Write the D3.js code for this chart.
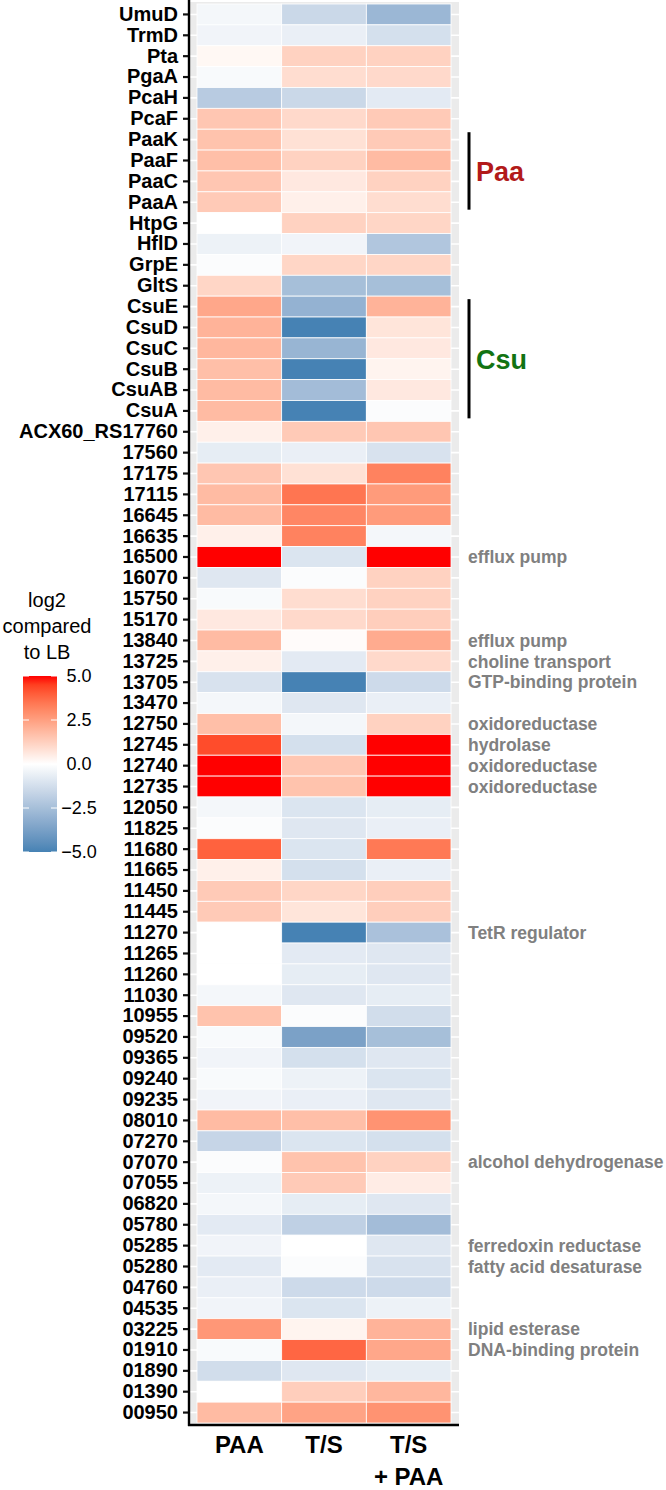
<!DOCTYPE html>
<html>
<head>
<meta charset="utf-8">
<script src="https://cdn.jsdelivr.net/npm/d3@7"></script>
<style>
  body { margin: 0; background: #fff; }
  svg { display: block; font-family: "Liberation Sans", Arial, sans-serif; }
</style>
</head>
<body>
<div id="chart"></div>
<script>
// genes, top to bottom
var genes = ['UmuD', 'TrmD', 'Pta', 'PgaA', 'PcaH', 'PcaF', 'PaaK', 'PaaF', 'PaaC', 'PaaA',
    'HtpG', 'HflD', 'GrpE', 'GltS', 'CsuE', 'CsuD', 'CsuC', 'CsuB', 'CsuAB', 'CsuA',
    'ACX60_RS17760', '17560', '17175', '17115', '16645', '16635', '16500', '16070', '15750', '15170',
    '13840', '13725', '13705', '13470', '12750', '12745', '12740', '12735', '12050', '11825',
    '11680', '11665', '11450', '11445', '11270', '11265', '11260', '11030', '10955', '09520',
    '09365', '09240', '09235', '08010', '07270', '07070', '07055', '06820', '05780', '05285',
    '05280', '04760', '04535', '03225', '01910', '01890', '01390', '00950'];

var conditions = ['PAA', 'T/S', 'T/S + PAA'];

// log2 fold change vs LB, same order as genes
var valPAA = [-0.3, -0.4, 0.2, -0.2, -2.0, 1.5, 1.6, 1.7, 1.5, 1.4,
    0.0, -0.5, -0.1, 1.1, 2.3, 2.0, 1.9, 1.7, 1.8, 1.8,
    0.4, -0.7, 1.5, 1.8, 1.8, 0.4, 5.0, -0.9, -0.2, 0.6,
    1.8, 0.4, -1.1, -0.3, 1.7, 4.3, 5.0, 5.0, -0.3, -0.1,
    3.9, 0.4, 1.4, 1.4, 0.0, 0.0, 0.0, -0.3, 1.6, -0.2,
    -0.4, -0.2, -0.4, 1.8, -1.6, -0.1, -0.5, -0.3, -0.8, -0.4,
    -0.8, -0.6, -0.4, 2.7, -0.2, -1.3, 0.0, 1.8];
var valTS = [-1.5, -0.6, 1.2, 0.9, -1.5, 1.0, 0.8, 1.2, 0.6, 0.4,
    1.2, -0.4, 1.1, -2.5, -3.0, -5.0, -2.9, -5.0, -2.6, -5.0,
    1.4, -0.6, 0.8, 3.5, 3.1, 3.2, -1.0, -0.1, 0.9, 1.0,
    0.1, -0.8, -5.0, -0.9, -0.3, -1.2, 1.5, 1.6, -1.0, -0.9,
    -1.0, -1.2, 1.1, 0.7, -5.0, -0.8, -0.7, -0.9, -0.1, -3.7,
    -1.2, -0.5, -0.6, 1.7, -1.0, 1.6, 1.4, -0.7, -1.8, 0.0,
    -0.1, -1.4, -1.0, 0.3, 3.8, -0.9, 1.3, 2.4];
var valTSPAA = [-2.8, -1.2, 1.2, 1.0, -0.8, 1.4, 1.4, 1.8, 1.2, 0.9,
    1.1, -2.2, 1.1, -2.5, 2.0, 0.7, 0.6, 0.3, 0.6, -0.1,
    1.5, -1.1, 3.2, 2.6, 2.6, -0.3, 5.0, 1.2, 1.2, 1.3,
    2.2, 1.0, -1.4, -0.6, 1.2, 5.0, 5.0, 5.0, -0.7, -0.6,
    3.4, -0.6, 1.3, 1.3, -2.4, -0.9, -0.9, -0.7, -1.3, -2.5,
    -0.9, -1.0, -0.9, 2.8, -1.2, 1.2, 0.5, -0.9, -2.6, -0.9,
    -1.1, -1.4, -0.5, 2.0, 2.3, -0.7, 1.9, 2.8];

// gene function notes shown right of the heatmap
var noteGenes = ['16500', '13840', '13725', '13705', '12750', '12745', '12740', '12735',
    '11270', '07070', '05285', '05280', '03225', '01910'];
var noteTexts = ['efflux pump', 'efflux pump', 'choline transport', 'GTP-binding protein',
    'oxidoreductase', 'hydrolase', 'oxidoreductase', 'oxidoreductase', 'TetR regulator',
    'alcohol dehydrogenase', 'ferredoxin reductase', 'fatty acid desaturase',
    'lipid esterase', 'DNA-binding protein'];

// operon brackets
var groupNames = ['Paa', 'Csu'];
var groupFirst = ['PaaK', 'CsuE'];
var groupLast = ['PaaA', 'CsuA'];
var groupColors = ['#b21a1a', '#127312'];

var legendTicks = [5, 2.5, 0, -2.5, -5];

var width = 666, height = 1490;
var svg = d3.select('#chart').append('svg')
    .attr('width', width)
    .attr('height', height);

// ---------- escalas ----------
var panelLeft = 189, panelRight = 459, panelTop = 2, panelBottom = 1425;
var x = d3.scaleBand().domain(conditions).range([197, 451]);
var y = d3.scaleBand().domain(genes).range([4, 1423]);
var color = d3.scaleLinear()
    .domain([-5, 0, 5])
    .range(['steelblue', 'white', 'red'])
    .interpolate(d3.interpolateLab)
    .clamp(true);

var cells = [];
genes.forEach(function (g, i) {
    cells.push({ gene: g, cond: conditions[0], v: valPAA[i] });
    cells.push({ gene: g, cond: conditions[1], v: valTS[i] });
    cells.push({ gene: g, cond: conditions[2], v: valTSPAA[i] });
});

// fondo gris del panel con lineas de la grilla
svg.append('rect')
    .attr('x', panelLeft).attr('y', panelTop)
    .attr('width', panelRight - panelLeft).attr('height', panelBottom - panelTop)
    .attr('fill', '#ebebeb');
svg.append('g').selectAll('line').data(genes).enter().append('line')
    .attr('x1', panelLeft).attr('x2', panelRight)
    .attr('y1', function (d) { return y(d) + y.bandwidth() / 2; })
    .attr('y2', function (d) { return y(d) + y.bandwidth() / 2; })
    .attr('stroke', '#fff').attr('stroke-width', 1.6);

// celdas
svg.append('g').selectAll('rect').data(cells).enter().append('rect')
    .attr('x', function (d) { return x(d.cond); })
    .attr('y', function (d) { return y(d.gene); })
    .attr('width', x.bandwidth())
    .attr('height', y.bandwidth())
    .attr('fill', function (d) { return color(d.v); })
    .attr('stroke', '#fff')
    .attr('stroke-width', 0.8);

// eje Y
var yAxis = svg.append('g')
    .attr('transform', 'translate(' + panelLeft + ',0)')
    .call(d3.axisLeft(y).tickSize(6).tickPadding(5));
yAxis.select('.domain').remove();
yAxis.selectAll('.tick line').attr('stroke', '#111').attr('stroke-width', 2.2);
yAxis.selectAll('.tick text')
    .attr('font-size', 20)
    .attr('font-weight', 'bold')
    .attr('fill', '#000')
    .attr('font-family', '"Liberation Sans", Arial, sans-serif');

svg.append('line')
    .attr('x1', panelLeft).attr('x2', panelLeft)
    .attr('y1', 0).attr('y2', panelBottom + 1)
    .attr('stroke', '#000').attr('stroke-width', 2.4);
svg.append('line')
    .attr('x1', panelLeft - 1).attr('x2', panelRight)
    .attr('y1', panelBottom).attr('y2', panelBottom)
    .attr('stroke', '#000').attr('stroke-width', 2.4);

// etiquetas eje X
var xLabels = svg.append('g');
xLabels.selectAll('text').data(conditions).enter().append('text')
    .attr('x', function (d) { return x(d) + x.bandwidth() / 2; })
    .attr('y', 1453)
    .attr('text-anchor', 'middle')
    .attr('font-size', 24)
    .attr('font-weight', 'bold')
    .attr('fill', '#000')
    .each(function (d) {
        var parts = d === 'T/S + PAA' ? ['T/S', '+ PAA'] : [d];
        var t = d3.select(this);
        parts.forEach(function (p, k) {
            t.append('tspan')
                .attr('x', x(d) + x.bandwidth() / 2)
                .attr('dy', k === 0 ? 0 : 32)
                .text(p);
        });
    });

// notas de funcion
svg.append('g').selectAll('text').data(noteGenes).enter().append('text')
    .attr('x', 468)
    .attr('y', function (d) { return y(d) + y.bandwidth() / 2; })
    .attr('dy', '0.36em')
    .attr('font-size', 17.5)
    .attr('font-weight', 'bold')
    .attr('fill', '#808080')
    .text(function (d, i) { return noteTexts[i]; });

// corchetes de operones
groupNames.forEach(function (name, i) {
    var y0 = y(groupFirst[i]) + 3;
    var y1 = y(groupLast[i]) + y.bandwidth() - 3;
    svg.append('line')
        .attr('x1', 469).attr('x2', 469)
        .attr('y1', y0).attr('y2', y1)
        .attr('stroke', '#000').attr('stroke-width', 3);
    svg.append('text')
        .attr('x', 476)
        .attr('y', (y0 + y1) / 2 + 10)
        .attr('font-size', 27)
        .attr('font-weight', 'bold')
        .attr('fill', groupColors[i])
        .text(name);
});

// ---------- leyenda ----------
var leg = svg.append('g');
['log2', 'compared', 'to LB'].forEach(function (t, k) {
    leg.append('text')
        .attr('x', 47).attr('y', 607 + k * 26)
        .attr('text-anchor', 'middle')
        .attr('font-size', 20)
        .attr('fill', '#000')
        .text(t);
});
var barX = 23, barW = 34;
var ly = d3.scaleLinear().domain([5, -5]).range([676, 852]);
var grad = svg.append('defs').append('linearGradient')
    .attr('id', 'lg').attr('x1', 0).attr('x2', 0).attr('y1', 0).attr('y2', 1);
d3.range(0, 21).forEach(function (k) {
    var v = 5 - k * 0.5;
    grad.append('stop').attr('offset', (k / 20)).attr('stop-color', color(v));
});
leg.append('rect')
    .attr('x', barX).attr('y', ly(5))
    .attr('width', barW).attr('height', ly(-5) - ly(5))
    .attr('fill', 'url(#lg)');
leg.selectAll('.lt').data(legendTicks).enter().append('g')
    .each(function (d) {
        var g = d3.select(this);
        g.append('line').attr('x1', barX).attr('x2', barX + 6)
            .attr('y1', ly(d)).attr('y2', ly(d)).attr('stroke', '#fff').attr('stroke-width', 1);
        g.append('line').attr('x1', barX + barW - 6).attr('x2', barX + barW)
            .attr('y1', ly(d)).attr('y2', ly(d)).attr('stroke', '#fff').attr('stroke-width', 1);
        g.append('text')
            .attr('x', 79).attr('y', ly(d))
            .attr('dy', '0.36em')
            .attr('text-anchor', 'middle')
            .attr('font-size', 18)
            .attr('fill', '#000')
            .text(d3.format('.1f')(d).replace('-', '\u2212'));
    });
</script>
</body>
</html>
